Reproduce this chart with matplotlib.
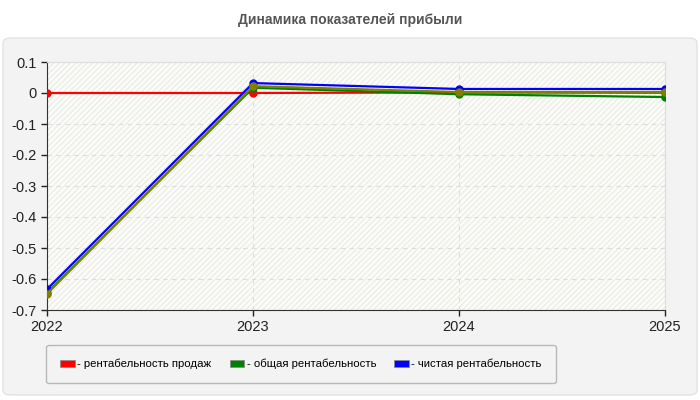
import matplotlib
matplotlib.use("Agg")
import matplotlib.pyplot as plt
from matplotlib.patches import FancyBboxPatch, Rectangle, Patch

plt.rcParams["font.family"] = ["Liberation Sans", "DejaVu Sans"]

years = [2022, 2023, 2024, 2025]
sales = [0.0, 0.0, 0.002, 0.001]          # рентабельность продаж
total = [-0.645, 0.017, -0.004, -0.013]   # общая рентабельность
net = [-0.633, 0.032, 0.013, 0.013]       # чистая рентабельность
extra = [-0.648, 0.022, 0.003, 0.003]     # unlabeled olive series

labels = ["- рентабельность продаж", "- общая рентабельность", "- чистая рентабельность"]
yticks = [0.1, 0, -0.1, -0.2, -0.3, -0.4, -0.5, -0.6, -0.7]

fig = plt.figure(figsize=(7, 4), dpi=100)

# rounded grey panel behind the plot
panel = FancyBboxPatch((3 / 700, 5 / 400), 694 / 700, 357 / 400,
                       boxstyle="round,pad=0,rounding_size=0.012",
                       transform=fig.transFigure, facecolor="#f3f3f3",
                       edgecolor="#e2e2e2", linewidth=1, zorder=-5)
fig.patches.append(panel)

fig.text(0.5, 1 - 20 / 400, "Динамика показателей прибыли", ha="center", va="center",
         fontsize=10, fontweight="bold", color="#555555")

ax = fig.add_axes([47 / 700, 1 - 310 / 400, 618 / 700, 248 / 400])
ax.set_facecolor("#fdfdf7")
ax.add_patch(Rectangle((0, 0), 1, 1, transform=ax.transAxes, facecolor="none",
                       edgecolor="#ececec", hatch="//////", linewidth=0, zorder=0))

ax.plot(years, sales, color="red", lw=1.6, marker="o", ms=5, zorder=3)
ax.plot(years, total, color="green", lw=1.6, marker="o", ms=5, zorder=3)
ax.plot(years, net, color="blue", lw=1.6, marker="o", ms=5, zorder=3)
ax.plot(years, extra, color="#808000", lw=1.6, marker="o", ms=5, zorder=3)

ax.set_xlim(2022, 2025)
ax.set_ylim(-0.7, 0.1)
ax.set_xticks(years)
ax.set_xticklabels([str(y) for y in years])
ax.set_yticks(yticks)
ax.set_yticklabels(["0" if v == 0 else f"{v:g}" for v in yticks])
ax.tick_params(labelsize=10.5, colors="#222222", length=4, width=1)
ax.grid(True, linestyle=(0, (4, 4)), color="#dddddd", linewidth=0.8)
ax.set_axisbelow(True)
for s in ["top", "right"]:
    ax.spines[s].set_color("#dddddd")
for s in ["left", "bottom"]:
    ax.spines[s].set_color("#333333")

handles = [Patch(facecolor=c, edgecolor="#888888", linewidth=0.5)
           for c in ["red", "green", "blue"]]
leg = fig.legend(handles, labels, ncol=3, loc="center",
                 bbox_to_anchor=(301 / 700, 1 - 364 / 400), fontsize=8.2,
                 frameon=True, fancybox=True, facecolor="#f3f3f3", edgecolor="#aaaaaa",
                 handlelength=1.3, handleheight=0.6, handletextpad=0.2,
                 columnspacing=1.6, borderpad=1.2)
leg.get_frame().set_linewidth(1)

fig.savefig("out.png", dpi=100)
